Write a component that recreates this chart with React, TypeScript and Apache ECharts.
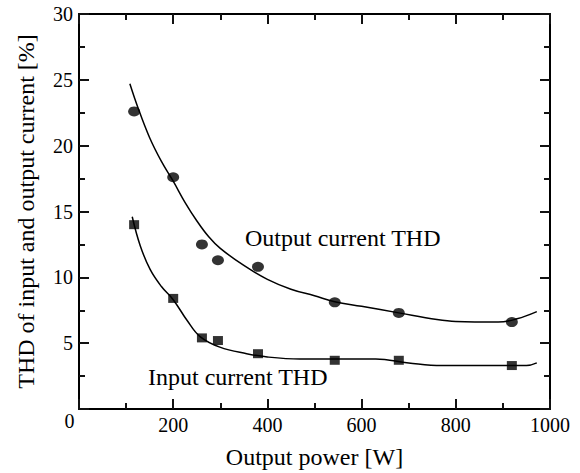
import React, { useEffect, useRef } from "react";
import * as echarts from "echarts";

const outputPointsX = [117, 200, 261, 295, 380, 543, 679, 919];
const outputPointsY = [22.6, 17.6, 12.5, 11.3, 10.8, 8.1, 7.3, 6.6];
const inputPointsX = [117, 200, 261, 295, 380, 543, 679, 919];
const inputPointsY = [14.0, 8.4, 5.4, 5.2, 4.2, 3.7, 3.7, 3.3];

const outputCurveX = [108, 125, 150, 175, 200, 225, 250, 275, 300, 350, 400, 450, 500, 543, 600, 679, 760, 800, 890, 930, 972];
const outputCurveY = [24.7, 22.9, 20.6, 18.8, 17.3, 15.7, 14.3, 13.1, 12.2, 10.9, 9.85, 9.1, 8.6, 8.15, 7.8, 7.3, 6.8, 6.65, 6.6, 6.85, 7.4];
const inputCurveX = [113, 130, 151, 175, 200, 230, 257, 299, 356, 400, 469, 540, 630, 700, 770, 950, 972];
const inputCurveY = [14.6, 12.4, 10.6, 9.3, 8.3, 6.7, 5.5, 4.7, 4.2, 3.95, 3.8, 3.8, 3.8, 3.5, 3.3, 3.3, 3.5];

const xTicks = [0, 200, 400, 600, 800, 1000];
const yTicks = [0, 5, 10, 15, 20, 25, 30];
const xTitle = "Output power [W]";
const yTitle = "THD of input and output current [%]";

const FONT = "Liberation Serif";
const GRID = { left: 79, right: 30, top: 14, bottom: 64 };

function mkAxis(showLabel: boolean, interval: number, min: number, max: number, position: string) {
  const a: any = {
    type: "value",
    min,
    max,
    interval,
    position,
    splitLine: { show: false },
    axisLine: { show: true, onZero: false, lineStyle: { color: "#000", width: 2 } },
    axisTick: { show: true, inside: true, length: 10, lineStyle: { color: "#111", width: 2 } },
    minorTick: { show: true, splitNumber: 2, length: 6, lineStyle: { color: "#111", width: 2 } },
    axisLabel: showLabel
      ? { show: true, showMinLabel: false, color: "#000", fontFamily: FONT, fontSize: 20, margin: 6, formatter: (v: number) => String(v) }
      : { show: false },
  };
  return a;
}

function hiddenAxis(min: number, max: number) {
  return {
    type: "value", min, max, show: false,
    axisLine: { show: false, onZero: false }, axisTick: { show: false }, axisLabel: { show: false }, splitLine: { show: false },
  };
}

export default function App() {
  const dataRef = useRef<HTMLDivElement>(null);
  const axisRef = useRef<HTMLDivElement>(null);
  useEffect(() => {
    if (!dataRef.current || !axisRef.current) return;
    const zip = (xs: number[], ys: number[]) => xs.map((x, i) => [x, ys[i]]);
    const xMin = xTicks[0], xMax = xTicks[xTicks.length - 1];
    const yMin = yTicks[0], yMax = yTicks[yTicks.length - 1];

    const dataChart = echarts.init(dataRef.current, null, { renderer: "svg" });
    dataChart.setOption({
      animation: false,
      grid: GRID,
      xAxis: hiddenAxis(xMin, xMax),
      yAxis: hiddenAxis(yMin, yMax),
      graphic: [
        { type: "text", x: 314.5, y: 457, style: { text: xTitle, fontFamily: FONT, fontSize: 24, fill: "#000", align: "center", verticalAlign: "middle" } },
        { type: "text", x: 26, y: 211.5, rotation: Math.PI / 2, style: { text: yTitle, fontFamily: FONT, fontSize: 24, fill: "#000", align: "center", verticalAlign: "middle" } },
        { type: "text", x: 69.5, y: 421, style: { text: "0", fontFamily: FONT, fontSize: 20, fill: "#000", align: "center", verticalAlign: "middle" } },
        { type: "text", x: 245, y: 238, style: { text: "Output current THD", fontFamily: FONT, fontSize: 24, fill: "#000", align: "left", verticalAlign: "middle" } },
        { type: "text", x: 148, y: 377, style: { text: "Input current THD", fontFamily: FONT, fontSize: 24, fill: "#000", align: "left", verticalAlign: "middle" } },
      ],
      series: [
        { type: "line", data: zip(outputCurveX, outputCurveY), smooth: 0.4, showSymbol: false, lineStyle: { color: "#000", width: 1.5 }, silent: true },
        { type: "line", data: zip(inputCurveX, inputCurveY), smooth: 0.4, showSymbol: false, lineStyle: { color: "#000", width: 1.5 }, silent: true },
        { type: "scatter", data: zip(outputPointsX, outputPointsY), symbol: "circle", symbolSize: [12, 10], itemStyle: { color: "#000" } },
        { type: "scatter", data: zip(inputPointsX, inputPointsY), symbol: "rect", symbolSize: [10, 9], itemStyle: { color: "#000" } },
      ],
    });

    const axisChart = echarts.init(axisRef.current, null, { renderer: "svg" });
    axisChart.setOption({
      animation: false,
      grid: GRID,
      xAxis: [mkAxis(true, 200, xMin, xMax, "bottom"), mkAxis(false, 200, xMin, xMax, "top")],
      yAxis: [mkAxis(true, 5, yMin, yMax, "left"), mkAxis(false, 5, yMin, yMax, "right")],
      series: [{ type: "scatter", data: [], silent: true }],
    });

    return () => {
      dataChart.dispose();
      axisChart.dispose();
    };
  }, []);
  return (
    <div style={{ position: "fixed", left: 0, top: 0, width: 580, height: 473, background: "#fff" }}>
      <div ref={dataRef} style={{ position: "absolute", left: 0, top: 0, width: 580, height: 473 }} />
      <div ref={axisRef} style={{ position: "absolute", left: 0, top: 0, width: 580, height: 473, pointerEvents: "none" }} />
    </div>
  );
}
